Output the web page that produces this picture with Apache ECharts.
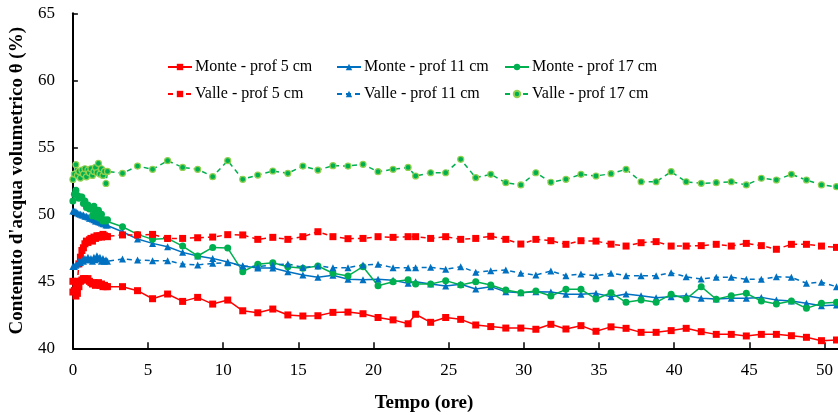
<!DOCTYPE html>
<html>
<head>
<meta charset="utf-8">
<script src="https://cdn.jsdelivr.net/npm/echarts@6/dist/echarts.min.js"></script>
<style>html,body{margin:0;padding:0;background:#fff}#c{width:838px;height:415px}</style>
</head>
<body>
<div id="c"></div>
<script>
// Time (hours)
const time = [0,0.1,0.2,0.3,0.4,0.5,0.6,0.7,0.8,0.9,1.0,1.1,1.2,1.3,1.4,1.5,1.6,1.7,1.8,1.9,2.0,2.1,2.2,
  2.3,3.3,4.3,5.3,6.3,7.3,8.3,9.3,10.3,11.3,12.3,13.3,14.3,15.3,16.3,17.3,18.3,19.3,20.3,21.3,22.3,
  22.8,23.8,24.8,25.8,26.8,27.8,28.8,29.8,30.8,31.8,32.8,33.8,34.8,35.8,36.8,37.8,38.8,39.8,40.8,41.8,42.8,43.8,44.8,45.8,46.8,47.8,48.8,49.8,50.8];

const monte5 = [45.0,44.3,43.9,44.1,44.6,45.0,45.1,45.2,45.2,45.1,45.2,45.0,44.9,44.8,44.9,44.7,44.8,44.9,44.7,44.8,44.6,44.7,44.6,
  44.6,44.6,44.3,43.7,44.05,43.5,43.8,43.3,43.6,42.8,42.65,42.93,42.49,42.41,42.43,42.68,42.7,42.58,42.3,42.12,41.83,
  42.54,41.94,42.3,42.16,41.74,41.62,41.51,41.51,41.42,41.79,41.44,41.69,41.27,41.6,41.49,41.19,41.19,41.32,41.49,41.24,41.04,41.04,40.92,41.04,41.04,40.94,40.82,40.57,40.62];

const monte11 = [50.25,50.2,50.2,50.1,50.05,50.0,49.95,49.95,49.85,49.85,49.8,49.7,49.7,49.65,49.6,49.5,49.5,49.45,49.4,49.35,49.3,49.3,49.2,
  49.2,48.7,48.15,47.83,47.58,47.16,46.89,46.71,46.44,46.14,45.99,46.0,45.72,45.47,45.3,45.45,45.15,45.12,45.15,45.07,44.85,
  44.97,44.8,44.65,44.78,44.43,44.6,44.22,44.15,44.22,44.2,44.03,44.03,44.1,43.85,44.05,43.93,43.78,43.85,43.93,43.73,43.68,43.73,43.73,43.8,43.6,43.53,43.36,43.18,43.23];

const monte17 = [51.0,51.5,51.8,51.4,51.2,51.3,51.3,50.8,51.0,50.5,50.7,50.4,50.5,49.9,50.6,50.2,49.8,50.3,49.7,50.0,49.5,49.6,49.5,
  49.6,49.07,48.5,48.13,48.2,47.63,46.89,47.53,47.48,45.72,46.27,46.39,46.09,45.97,46.14,45.6,45.4,46.09,44.67,44.97,45.12,
  44.8,44.8,45.05,44.72,44.97,44.72,44.35,44.15,44.28,43.9,44.4,44.4,43.68,44.15,43.43,43.6,43.43,44.03,43.68,44.6,43.66,43.93,44.1,43.53,43.3,43.53,42.98,43.36,43.43];

const valle5 = [44.2,44.3,44.6,45.0,46.3,46.8,47.3,47.5,47.8,48.0,47.9,48.1,48.2,48.0,48.3,48.2,48.4,48.3,48.4,48.3,48.5,48.4,48.35,
  48.33,48.46,48.46,48.5,48.2,48.2,48.25,48.3,48.48,48.46,48.13,48.28,48.13,48.33,48.7,48.33,48.18,48.2,48.33,48.28,48.33,
  48.33,48.2,48.33,48.13,48.2,48.36,48.13,47.78,48.13,48.03,47.76,48.03,48.0,47.77,47.63,47.88,47.96,47.63,47.63,47.66,47.76,47.63,47.83,47.66,47.39,47.76,47.76,47.63,47.53];

const valle11 = [46.1,46.1,46.2,46.3,46.5,46.4,46.6,46.5,46.7,46.6,46.8,46.6,46.7,46.5,46.8,46.6,46.9,46.7,46.8,46.5,46.7,46.5,46.6,
  46.5,46.66,46.59,46.54,46.54,46.29,46.22,46.34,46.39,46.14,46.09,46.22,46.29,46.04,46.14,46.02,46.02,46.22,46.27,46.02,46.02,
  46.02,46.04,45.9,46.09,45.67,45.79,45.84,45.6,45.47,45.77,45.42,45.55,45.42,45.6,45.42,45.42,45.42,45.64,45.34,45.17,45.3,45.3,45.15,45.15,45.34,45.3,44.85,44.93,44.6];

const valle17 = [52.6,53.0,53.7,52.9,53.2,52.7,53.3,53.0,53.4,52.8,53.3,53.1,53.4,52.9,53.2,53.5,53.1,53.8,53.0,53.4,52.9,53.2,52.3,
  53.2,53.06,53.6,53.36,54.0,53.5,53.36,52.81,54.0,52.61,52.93,53.23,53.06,53.6,53.3,53.63,53.6,53.73,53.18,53.36,53.5,
  52.86,53.1,53.1,54.1,52.73,52.98,52.36,52.19,53.1,52.39,52.61,52.98,52.86,53.03,53.36,52.43,52.43,53.18,52.43,52.31,52.36,52.43,52.19,52.69,52.56,52.98,52.56,52.19,52.06];

const names = ['Monte - prof 5 cm','Monte - prof 11 cm','Monte - prof 17 cm','Valle - prof 5 cm','Valle - prof 11 cm','Valle - prof 17 cm'];
const yTitle = "Contenuto d'acqua volumetrico θ (%)";
const xTitle = 'Tempo (ore)';

const FONT = 'Liberation Serif';
const RED = '#FF0000', BLUE = '#0070C0', GREEN = '#00B050';
const pairs = arr => time.map((t, i) => [t, arr[i]]);

function mk(name, arr, color, symbol, size, dashed, extra) {
  return Object.assign({
    name, type: 'line', data: pairs(arr),
    symbol, symbolSize: size, showSymbol: true,
    lineStyle: { color, width: 1.5, type: dashed ? [5, 4] : 'solid' },
    itemStyle: { color },
    animation: false
  }, extra || {});
}

const series = [
  mk(names[0], monte5, RED, 'rect', 7, false),
  mk(names[1], monte11, BLUE, 'triangle', 7, false),
  mk(names[2], monte17, GREEN, 'circle', 7, false),
  mk(names[3], valle5, RED, 'rect', 7, true),
  mk(names[4], valle11, BLUE, 'triangle', 7, true),
  mk(names[5], valle17, GREEN, 'circle', 6, true, { itemStyle: { color: GREEN, borderColor: '#92D050', borderWidth: 1.2 } })
];

const legPos = [
  [167, 59], [336, 59], [504, 59],
  [167, 86], [336, 86], [504, 86]
];
const legends = names.map((n, i) => ({
  data: [n], left: legPos[i][0], top: legPos[i][1],
  itemWidth: 24, itemHeight: 8, itemGap: 0, padding: 0,
  textStyle: { fontFamily: FONT, fontSize: 16, color: '#000', padding: [0, 0, 0, -2] },
  selectedMode: false
}));

const chart = echarts.init(document.getElementById('c'), null, { renderer: 'canvas' });
chart.setOption({
  backgroundColor: '#fff',
  animation: false,
  legend: legends,
  grid: { left: 67.7, right: 0, top: 13.3, bottom: 66.7, containLabel: false },
  xAxis: {
    type: 'value', min: 0, max: 50.9, interval: 5,
    axisLine: { lineStyle: { color: '#000', width: 2 } },
    axisTick: { inside: true, length: 6, lineStyle: { color: '#000', width: 1.5 } },
    axisLabel: { showMaxLabel: false, margin: 14, fontFamily: FONT, fontSize: 17, color: '#000',
      formatter: v => (Math.abs(v % 5) < 1e-9 ? String(v) : '') },
    splitLine: { show: false }
  },
  yAxis: {
    type: 'value', min: 40, max: 65, interval: 5,
    name: yTitle, nameLocation: 'middle', nameGap: 42,
    nameTextStyle: { fontFamily: FONT, fontSize: 19, fontWeight: 'bold', color: '#000' },
    axisLine: { show: true, lineStyle: { color: '#000', width: 2 } },
    axisTick: { show: true, inside: true, length: 5, lineStyle: { color: '#000', width: 1.5 } },
    axisLabel: { margin: 18, fontFamily: FONT, fontSize: 17, color: '#000' },
    splitLine: { show: false }
  },
  graphic: [{
    type: 'text', x: 424, y: 403,
    style: { text: xTitle, fontFamily: FONT, fontSize: 19, fontWeight: 'bold', fill: '#000', textAlign: 'center', textVerticalAlign: 'middle' }
  }],
  series
});
</script>
</body>
</html>
